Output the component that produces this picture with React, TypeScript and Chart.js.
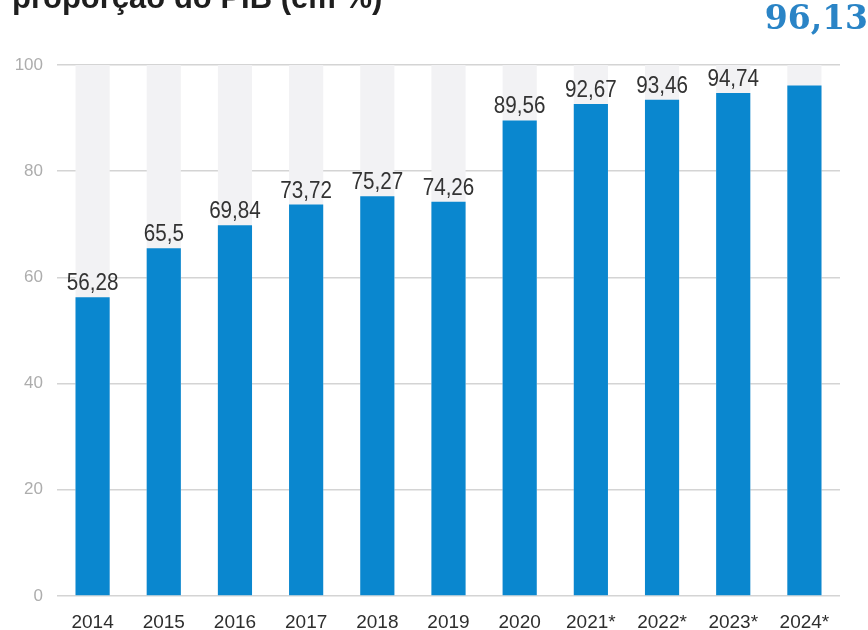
import React, { useEffect, useRef } from "react";
import { Chart, registerables } from "chart.js";

Chart.register(...registerables);

const categories = ["2014", "2015", "2016", "2017", "2018", "2019", "2020", "2021*", "2022*", "2023*", "2024*"];
const debtValues = [56.28, 65.5, 69.84, 73.72, 75.27, 74.26, 89.56, 92.67, 93.46, 94.74, 96.13];
const valueLabels = ["56,28", "65,5", "69,84", "73,72", "75,27", "74,26", "89,56", "92,67", "93,46", "94,74", "96,13"];
const backgroundValues = [100, 100, 100, 100, 100, 100, 100, 100, 100, 100, 100];
const yTicks = [0, 20, 40, 60, 80, 100];
const titleText = "proporção do PIB (em %)";

const BLUE = "#0a87cf";

const labelPlugin = {
  id: "labelPlugin",
  beforeDraw(chart: any) {
    const ctx = chart.ctx;
    ctx.save();
    ctx.fillStyle = "#1e1e1e";
    ctx.font = "bold 31px 'Liberation Sans', Arial, sans-serif";
    ctx.textAlign = "left";
    ctx.textBaseline = "alphabetic";
    ctx.fillText(titleText, 12, 8);
    ctx.restore();
  },
  afterDatasetsDraw(chart: any) {
    const ctx = chart.ctx;
    const meta = chart.getDatasetMeta(1);
    meta.data.forEach((bar: any, i: number) => {
      ctx.save();
      if (i === debtValues.length - 1) {
        ctx.font = "bold 33px 'DejaVu Serif', serif";
        ctx.fillStyle = "#2a84c6";
        ctx.textAlign = "center";
        ctx.textBaseline = "alphabetic";
        ctx.fillText(valueLabels[i], bar.x + 12, 29);
      } else {
        ctx.font = "24px 'Liberation Sans', Arial, sans-serif";
        ctx.fillStyle = "#333333";
        ctx.textAlign = "center";
        ctx.textBaseline = "alphabetic";
        ctx.translate(bar.x, bar.y - 7);
        ctx.scale(0.86, 1);
        ctx.fillText(valueLabels[i], 0, 0);
      }
      ctx.restore();
    });
  },
};

export default function App() {
  const canvasRef = useRef<HTMLCanvasElement | null>(null);

  useEffect(() => {
    const canvas = canvasRef.current;
    if (!canvas) return;
    const chart = new Chart(canvas, {
      type: "bar",
      data: {
        labels: categories,
        datasets: [
          {
            label: "fundo",
            data: backgroundValues,
            backgroundColor: "#f2f2f4",
            grouped: false,
            order: 2,
            categoryPercentage: 1,
            barPercentage: 0.48,
          } as any,
          {
            label: "dívida",
            data: debtValues,
            backgroundColor: BLUE,
            grouped: false,
            order: 1,
            categoryPercentage: 1,
            barPercentage: 0.48,
          } as any,
        ],
      },
      options: {
        responsive: false,
        animation: false,
        layout: { padding: { top: 65, right: 28, left: 0, bottom: 0 } },
        plugins: {
          legend: { display: false },
          tooltip: { enabled: false },
          title: { display: false },
        },
        scales: {
          x: {
            grid: { display: false },
            border: { display: false },
            ticks: {
              color: "#2e2e2e",
              font: { family: "'Liberation Sans', Arial, sans-serif", size: 19 },
              padding: 7,
              maxRotation: 0,
              autoSkip: false,
            },
            afterFit(scale: any) {
              scale.height = 34;
            },
          },
          y: {
            min: 0,
            max: 100,
            afterBuildTicks(scale: any) {
              scale.ticks = yTicks.map((v) => ({ value: v }));
            },
            grid: { color: "#d4d4d4", lineWidth: 1.5, drawTicks: false },
            border: { display: false },
            ticks: {
              color: "#adadad",
              font: { family: "'Liberation Sans', Arial, sans-serif", size: 17 },
              padding: 14,
            },
            afterFit(scale: any) {
              scale.width = 57;
            },
          },
        },
      },
      plugins: [labelPlugin],
    });
    return () => chart.destroy();
  }, []);

  return (
    <div style={{ position: "fixed", left: 0, top: 0, width: 868, height: 630, background: "#ffffff" }}>
      <canvas ref={canvasRef} width={868} height={630} style={{ display: "block" }} />
    </div>
  );
}
